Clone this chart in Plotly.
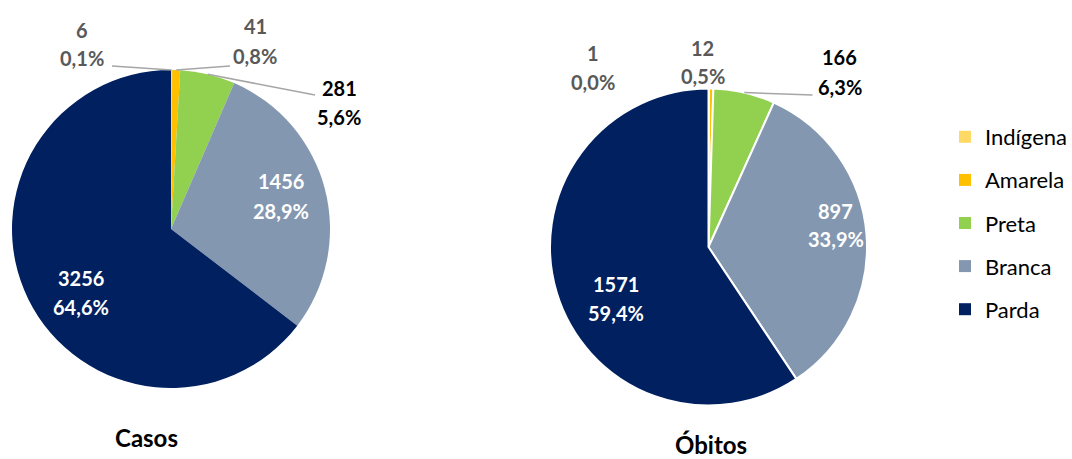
import math
import plotly.graph_objects as go

# ---------------- data ----------------
categories = ["Indígena", "Amarela", "Preta", "Branca", "Parda"]
casos = [6, 41, 281, 1456, 3256]
obitos = [1, 12, 166, 897, 1571]
casos_pct = ["0,1%", "0,8%", "5,6%", "28,9%", "64,6%"]
obitos_pct = ["0,0%", "0,5%", "6,3%", "33,9%", "59,4%"]
titles = ["Casos", "Óbitos"]

# ---------------- style ----------------
colors = ["#FFD966", "#FFC000", "#92D050", "#8497B0", "#002060"]
W, H = 1072, 459
FONT = "Lato"
GRAY_TXT = "#595959"
LINE_COL = "#A6A6A6"

pies = [
    dict(center=(171, 229), r=159, border=0,
         # label centre offsets from pie centre (px), colour, leader-line end offset
         labels=[((-89, -185), GRAY_TXT, (-59, -163)),
                 ((84, -188), GRAY_TXT, (59, -163)),
                 ((168, -127), "#000000", (144, -134)),
                 ((110, -33), "#FFFFFF", None),
                 ((-90, 63), "#FFFFFF", None)],
         title_pos=(146, 437)),
    dict(center=(708.5, 247), r=158.5, border=2,
         labels=[((-116, -180), GRAY_TXT, None),
                 ((-6, -185), GRAY_TXT, None),
                 ((131, -175), "#000000", (104, -152)),
                 ((127, -22), "#FFFFFF", None),
                 ((-93, 51), "#FFFFFF", None)],
         title_pos=(711, 444)),
]
series = [(casos, casos_pct), (obitos, obitos_pct)]


def px(x, y):
    return x / W, 1 - y / H


fig = go.Figure()
annotations = []
shapes = []

for p, (vals, pcts), title in zip(pies, series, titles):
    cx, cy = p["center"]
    r = p["r"]
    fig.add_trace(go.Pie(
        labels=categories, values=vals, sort=False, direction="clockwise",
        rotation=0, marker=dict(colors=colors, line=dict(color="white", width=p["border"])),
        textinfo="none", hoverinfo="label+value+percent", showlegend=False,
        domain=dict(x=[(cx - r) / W, (cx + r) / W],
                    y=[1 - (cy + r) / H, 1 - (cy - r) / H]),
    ))
    total = sum(vals)
    cum = 0
    for i, v in enumerate(vals):
        mid = (cum + v / 2) / total * 2 * math.pi
        cum += v
        (dx, dy), col, lend = p["labels"][i]
        lx, ly = cx + dx, cy + dy
        for text, shift in ((str(v), -14.5), (pcts[i], 14.5)):
            x, y = px(lx, ly + shift)
            annotations.append(dict(x=x, y=y, xref="paper", yref="paper", text=f"<b>{text}</b>",
                                    showarrow=False, xanchor="center", yanchor="middle",
                                    font=dict(family=FONT, size=20, color=col)))
        if lend is not None:
            ax, ay = cx + r * math.sin(mid), cy - r * math.cos(mid)
            ex, ey = cx + lend[0], cy + lend[1]
            x0, y0 = px(ax, ay)
            x1, y1 = px(ex, ey)
            shapes.append(dict(type="line", xref="paper", yref="paper", x0=x0, y0=y0, x1=x1, y1=y1,
                               line=dict(color=LINE_COL, width=1.5)))
    tx, ty = px(*p["title_pos"])
    annotations.append(dict(x=tx, y=ty, xref="paper", yref="paper", text=f"<b>{title}</b>",
                            showarrow=False, xanchor="center", yanchor="middle",
                            font=dict(family=FONT, size=24, color="#000000")))

# legend entries (one group per category so spacing can be controlled)
for cat, col in zip(categories, colors):
    fig.add_trace(go.Scatter(x=[None], y=[None], mode="markers", name=cat, legendgroup=cat,
                             marker=dict(symbol="square", size=10, color=col), hoverinfo="skip"))

fig.update_layout(
    width=W, height=H, margin=dict(l=0, r=0, t=0, b=0),
    paper_bgcolor="white", plot_bgcolor="rgba(0,0,0,0)",
    xaxis=dict(visible=False), yaxis=dict(visible=False),
    showlegend=True,
    legend=dict(x=945 / W, y=1 - 116 / H, xanchor="left", yanchor="top",
                font=dict(family=FONT, size=22, color="#000000"),
                tracegroupgap=11.5, itemsizing="constant", bgcolor="rgba(0,0,0,0)"),
    annotations=annotations, shapes=shapes,
)

fig.write_html("out.html")
